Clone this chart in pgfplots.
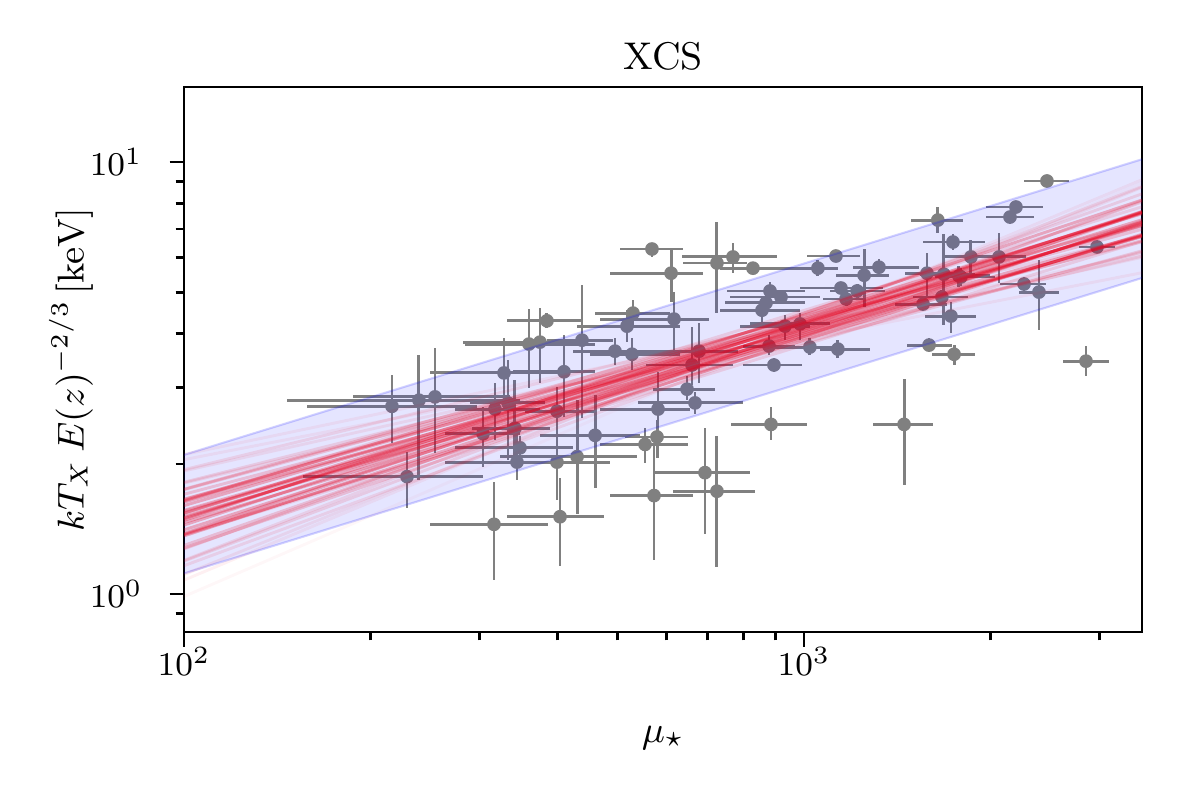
\documentclass[border=0pt]{standalone}
\usepackage{pgfplots}
\pgfplotsset{compat=1.18}
\usepackage{pgfplotstable}
\definecolor{ptgray}{RGB}{128,128,128}
\definecolor{fitred}{RGB}{232,0,28}

\pgfplotstableread{
x y xm xp ym yp
216.5 2.72 58.6 80.4 0.48 0.49
239.3 2.81 92.7 109.0 0.97 0.76
254.0 2.86 66.6 81.6 0.74 0.85
228.9 1.87 73.3 74.7 0.29 0.26
316.2 1.45 66.8 70.2 0.37 0.37
303.6 2.35 40.0 44.7 0.38 0.36
317.4 2.68 43.8 57.7 0.41 0.40
328.2 3.25 78.8 75.9 0.58 0.66
333.1 2.77 43.8 49.0 0.73 0.71
341.8 2.42 50.4 47.5 0.40 0.71
344.4 2.02 80.8 119.3 0.18 0.34
348.3 2.18 74.7 75.8 0.16 0.14
360.1 3.79 76.2 100.2 0.79 0.78
375.1 3.83 93.3 60.2 0.75 0.76
385.0 4.29 53.1 55.2 0.16 0.18
399.6 2.65 44.8 64.1 0.68 0.36
399.6 2.02 70.2 86.9 0.37 0.38
404.1 1.51 72.2 71.7 0.35 0.35
410.1 3.27 70.8 50.2 0.70 0.71
430.5 2.08 107.2 107.3 0.55 0.73
438.5 3.87 53.5 53.5 1.31 1.32
460.3 2.33 85.2 83.6 0.57 0.56
495.6 3.65 71.5 90.2 0.26 0.26
518.2 4.17 87.7 112.8 0.34 0.37
529.9 4.47 69.6 78.2 0.27 0.32
527.9 3.59 76.1 103.1 0.29 0.32
554.1 2.22 85.3 95.9 0.21 0.20
568.6 6.29 63.7 69.4 0.26 0.20
572.9 1.69 86.4 89.3 0.49 0.55
579.3 2.31 64.9 70.7 0.25 0.22
581.5 2.68 112.7 73.3 0.62 0.59
610.4 5.53 123.9 76.8 0.79 0.79
617.1 4.33 148.3 85.6 0.66 0.67
647.6 2.98 76.8 70.9 0.17 0.22
659.7 3.39 103.5 108.4 0.34 0.76
667.2 2.77 127.3 130.0 0.16 0.17
677.1 3.65 190.6 105.4 0.57 0.59
692.3 1.91 121.5 125.9 0.53 0.51
723.8 5.84 85.8 85.3 1.37 1.42
723.8 1.73 108.9 109.7 0.575 0.59
768.1 6.03 132.4 136.4 0.50 0.46
827.3 5.68 95.4 111.6 0.18 0.19
881.3 5.03 130.1 122.7 0.24 0.25
918.1 4.87 158.5 142.9 0.18 0.18
868.4 4.72 122.7 135.6 0.20 0.20
855.5 4.54 123.6 129.7 0.34 0.25
932.0 4.17 143.6 90.0 0.30 0.25
985.2 4.22 167.0 115.8 0.35 0.25
878.1 3.75 80.9 89.1 0.18 0.23
1022 3.73 140.7 121 0.16 0.18
894.4 3.39 97.2 98.2 0.12 0.12
884.6 2.47 122.2 126.4 0.20 0.24
1053 5.68 138 81 0.23 0.25
1126 6.06 115 105 0.19 0.19
1250 5.47 124 121 0.85 0.82
1321 5.71 121 212 0.29 0.25
1147 5.11 161.8 194 0.16 0.17
1218 5.03 117 133 0.19 0.19
1169 4.82 96 90 0.18 0.18
1134 3.69 73 144 0.18 0.18
1579 5.53 123 186 0.69 0.63
1681 5.50 142 206 1.30 1.31
1778 5.45 152 217 0.31 0.29
1669 4.87 170 170 0.18 0.18
1556 4.69 154 144 0.17 0.18
1726 4.40 159 168 0.38 0.34
1591 3.77 125 142 0.14 0.14
1746 3.59 138 141 0.20 0.18
1450 2.47 158 164 0.68 0.68
1644 7.34 156 161 0.49 0.53
1739 6.53 183 219 0.27 0.28
1859 6.03 171 212 0.50 0.57
2063 6.03 211 218 0.78 0.82
1791 5.42 165 242 0.25 0.26
2264 5.22 193 192 0.19 0.20
2393 5.00 170 185 0.92 0.93
2465 9.04 201 210 0.30 0.30
2197 7.87 231 232 0.25 0.25
2149 7.46 183 201 0.25 0.25
2969 6.36 193 205 0.20 0.20
2850 3.46 234 254 0.26 0.29
}\datatable

\begin{document}
\begin{tikzpicture}
\useasboundingbox (-44.16bp,-40.32bp) rectangle (243.84bp,151.68bp);
\begin{axis}[
  scale only axis, width=229.92bp, height=130.8bp,
  xmode=log, ymode=log,
  xmin=100, xmax=3509, ymin=0.8168, ymax=14.92,
  xtick={100,1000}, minor xtick={200,300,400,500,600,700,800,900,2000,3000},
  ytick={1,10}, minor ytick={0.9,2,3,4,5,6,7,8,9},
  tick pos=left, tick align=outside,
  major tick length=3.5pt, minor tick length=2pt,
  every tick/.style={black, line width=0.7pt},
  axis line style={line width=0.7pt},
  clip mode=individual,
  ticklabel style={font=\fontsize{8.4}{10}\selectfont},
  title={XCS},
  every axis title/.style={at={(axis description cs:0.5,1)}, anchor=base, yshift=4.3bp, font=\fontsize{9.3}{11}\selectfont},
  xlabel={$\mu_\star$},
  xlabel style={at={(axis description cs:0.5,0)}, anchor=center, yshift=-25.5bp, font=\fontsize{9.3}{11}\selectfont},
  ylabel={$kT_X\,E(z)^{-2/3}\,[\mathrm{keV}]$},
  ylabel style={at={(axis description cs:-0.118,0.4817)}, anchor=center, font=\fontsize{9.2}{11}\selectfont},
  yticklabel style={xshift=-3bp},
  xticklabel style={yshift=3.2bp},
  redline/.style={fitred, opacity=0.28, line width=0.7pt, forget plot},
]
\addplot[only marks, mark=*, mark size=1.45pt, color=ptgray,
  error bars/.cd, x dir=both, x explicit, y dir=both, y explicit,
  error mark=none, error bar style={line width=0.7pt, ptgray}]
  table[x=x, y=y, x error minus=xm, x error plus=xp, y error minus=ym, y error plus=yp] {\datatable};

\addplot[fill=blue, fill opacity=0.1, draw=none, forget plot]
  coordinates {(100,2.10) (3509,10.15) (3509,5.39) (100,1.116) (100,2.10)};
\addplot[blue, opacity=0.18, line width=0.5pt, forget plot] coordinates {(100,2.10) (3509,10.15)};
\addplot[blue, opacity=0.18, line width=0.5pt, forget plot] coordinates {(100,1.116) (3509,5.39)};

\addplot[redline] coordinates {(100,1.502) (3509,7.188)};
\addplot[redline] coordinates {(100,1.602) (3509,7.140)};
\addplot[redline] coordinates {(100,1.408) (3509,7.234)};
\addplot[redline] coordinates {(100,1.632) (3509,6.774)};
\addplot[redline] coordinates {(100,1.382) (3509,7.625)};
\addplot[redline] coordinates {(100,1.464) (3509,6.763)};
\addplot[redline] coordinates {(100,1.540) (3509,7.637)};
\addplot[redline] coordinates {(100,1.562) (3509,6.718)};
\addplot[redline] coordinates {(100,1.444) (3509,7.687)};
\addplot[redline, opacity=0.18] coordinates {(100,1.745) (3509,6.989)};
\addplot[redline, opacity=0.18] coordinates {(100,1.296) (3509,7.674)};
\addplot[redline] coordinates {(100,1.537) (3509,7.355)};
\addplot[redline] coordinates {(100,1.512) (3509,6.740)};
\addplot[redline] coordinates {(100,1.492) (3509,7.662)};
\addplot[redline, opacity=0.18] coordinates {(100,1.702) (3509,6.577)};
\addplot[redline, opacity=0.15] coordinates {(100,1.272) (3509,8.087)};
\addplot[redline, opacity=0.12] coordinates {(100,1.815) (3509,6.533)};
\addplot[redline, opacity=0.12] coordinates {(100,1.192) (3509,8.141)};
\addplot[redline] coordinates {(100,1.643) (3509,7.589)};
\addplot[redline] coordinates {(100,1.373) (3509,6.807)};
\addplot[redline, opacity=0.1] coordinates {(100,1.807) (3509,6.059)};
\addplot[redline, opacity=0.1] coordinates {(100,1.197) (3509,8.781)};
\addplot[redline, opacity=0.18] coordinates {(100,1.749) (3509,7.259)};
\addplot[redline, opacity=0.18] coordinates {(100,1.278) (3509,7.306)};
\addplot[redline, opacity=0.12] coordinates {(100,1.660) (3509,6.189)};
\addplot[redline, opacity=0.12] coordinates {(100,1.375) (3509,8.441)};
\addplot[redline, opacity=0.08] coordinates {(100,1.928) (3509,6.019)};
\addplot[redline, opacity=0.08] coordinates {(100,1.110) (3509,8.739)};
\addplot[redline] coordinates {(100,1.363) (3509,7.257)};
\addplot[redline] coordinates {(100,1.656) (3509,7.117)};
\addplot[redline, opacity=0.06] coordinates {(100,2.104) (3509,6.119)};
\addplot[redline, opacity=0.06] coordinates {(100,1.077) (3509,9.104)};
\addplot[redline, opacity=0.1] coordinates {(100,1.941) (3509,6.742)};
\addplot[redline, opacity=0.1] coordinates {(100,1.163) (3509,7.662)};
\addplot[redline, opacity=0.12] coordinates {(100,1.370) (3509,6.554)};
\addplot[redline, opacity=0.12] coordinates {(100,1.647) (3509,7.880)};
\addplot[redline, opacity=0.03] coordinates {(100,0.987) (3509,8.954)};
\addplot[redline, opacity=0.06] coordinates {(100,2.047) (3509,5.544)};
\addplot[redline] coordinates {(100,1.481) (3509,8.169)};
\addplot[redline, opacity=0.15] coordinates {(100,1.555) (3509,6.230)};
\end{axis}
\end{tikzpicture}
\end{document}
